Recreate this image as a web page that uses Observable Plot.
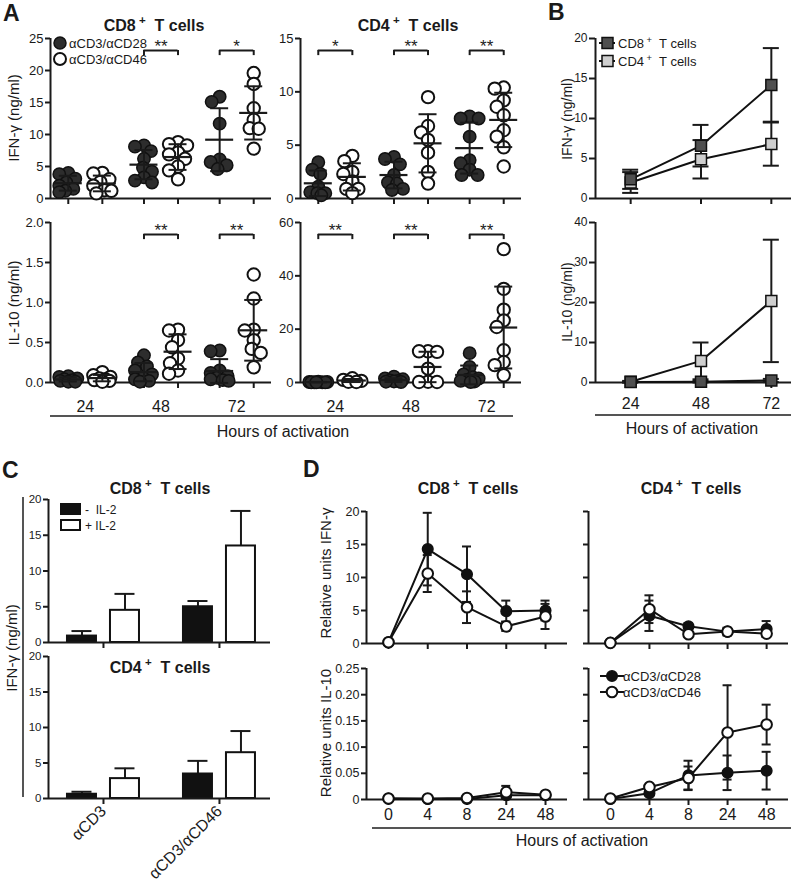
<!DOCTYPE html>
<html>
<head>
<meta charset="utf-8">
<script src="https://cdn.jsdelivr.net/npm/d3@7"></script>
<script src="https://cdn.jsdelivr.net/npm/@observablehq/plot@0.6"></script>
<style>
html, body { margin: 0; padding: 0; background: #fff; overflow: hidden; }
#fig { position: relative; width: 791px; height: 882px; overflow: hidden; background: #fff; }
#fig svg { position: absolute; overflow: visible; }
</style>
</head>
<body>
<div id="fig"></div>
<script>
const FONT = '"Liberation Sans", Arial, Helvetica, sans-serif';

// ================= DATA =================
// Panel A : individual donors (ng/ml), per hour group [24, 48, 72]
const hoursA = ["24", "48", "72"];
const conditions = ["αCD3/αCD28", "αCD3/αCD46"];

const aCd8IfnCD28 = [[4.0, 3.8, 3.1, 2.5, 2.0, 1.5, 1.2, 1.0],
                     [8.3, 8.1, 7.4, 6.2, 4.8, 4.2, 3.3, 2.8, 2.5],
                     [15.9, 15.1, 11.7, 6.1, 5.7, 5.2, 4.6]];
const aCd8IfnCD46 = [[4.0, 3.9, 3.0, 2.6, 2.0, 1.3, 1.2, 0.8],
                     [8.8, 8.5, 8.3, 7.2, 6.9, 6.2, 5.0, 4.4, 3.0],
                     [19.6, 17.9, 14.1, 12.3, 11.0, 10.9, 7.8]];
const aCd4IfnCD28 = [[3.4, 2.7, 2.3, 1.1, 0.6, 0.5, 0.5, 0.3],
                     [3.9, 3.7, 3.2, 2.2, 1.5, 1.4, 0.9, 0.8],
                     [7.7, 7.5, 7.5, 5.8, 3.6, 3.3, 2.7, 2.2, 2.2]];
const aCd4IfnCD46 = [[4.0, 3.5, 2.5, 2.3, 1.6, 0.9, 0.9, 0.5],
                     [9.5, 6.8, 6.2, 5.5, 4.3, 2.5, 1.4],
                     [10.4, 10.3, 9.2, 8.6, 7.8, 6.4, 5.8, 4.8, 3.0]];
const aCd8Il10CD28 = [[0.08, 0.07, 0.05, 0.04, 0.03, 0.02, 0.01, 0.01],
                      [0.34, 0.25, 0.20, 0.15, 0.10, 0.06, 0.04, 0.02, 0.01],
                      [0.40, 0.39, 0.15, 0.12, 0.08, 0.06, 0.04, 0.03, 0.02]];
const aCd8Il10CD46 = [[0.13, 0.09, 0.07, 0.05, 0.04, 0.03, 0.02, 0.01],
                      [0.66, 0.65, 0.53, 0.44, 0.30, 0.24, 0.15, 0.11],
                      [1.35, 1.05, 0.66, 0.65, 0.53, 0.42, 0.37, 0.19]];
const aCd4Il10CD28 = [[0.3, 0.2, 0.2, 0.1, 0.1, 0.1, 0.05, 0.05],
                      [2.2, 1.5, 1.2, 0.8, 0.6, 0.4, 0.3, 0.2],
                      [11.0, 5.8, 3.0, 2.0, 1.5, 1.0, 0.6, 0.4, 0.2]];
const aCd4Il10CD46 = [[1.6, 1.0, 0.6, 0.3, 0.2],
                      [11.7, 11.7, 11.5, 5.2, 0.3, 0.2, 0.2],
                      [50.0, 35.1, 27.3, 23.3, 20.8, 12.1, 7.7, 6.5, 2.7]];
const starsCd8Ifn = ["", "**", "*"];
const starsCd4Ifn = ["*", "**", "**"];
const starsCd8Il10 = ["", "**", "**"];
const starsCd4Il10 = ["**", "**", "**"];

// Panel B : mean ± SD (ng/ml)
const hoursB = ["24", "48", "72"];
const cellsB = ["CD8", "CD4"];
const bIfnCd8 = [2.4, 6.6, 14.2], bIfnCd8Sd = [1.2, 2.6, 4.6];
const bIfnCd4 = [2.0, 4.9, 6.8], bIfnCd4Sd = [1.3, 2.4, 2.7];
const bIl10Cd8 = [0.1, 0.2, 0.5], bIl10Cd8Sd = [0.1, 0.2, 0.4];
const bIl10Cd4 = [0.2, 5.4, 20.4], bIl10Cd4Sd = [0.2, 4.6, 15.3];

// Panel C : IFN-γ (ng/ml) mean + SD, with / without IL-2
const cGroups = ["αCD3", "αCD3/αCD46"];
const cLegend = ["-  IL-2", "+ IL-2"];
const cCd8Minus = [0.9, 5.0], cCd8MinusErr = [0.7, 0.8];
const cCd8Plus = [4.5, 13.5], cCd8PlusErr = [2.3, 4.9];
const cCd4Minus = [0.6, 3.45], cCd4MinusErr = [0.35, 1.85];
const cCd4Plus = [2.8, 6.45], cCd4PlusErr = [1.45, 3.05];

// Panel D : relative units, mean ± SD
const hoursD = ["0", "4", "8", "24", "48"];
const dCd8IfnCD28 = [0.2, 14.3, 10.5, 4.9, 5.0], dCd8IfnCD28Sd = [0.1, 5.5, 4.2, 1.6, 1.5];
const dCd8IfnCD46 = [0.2, 10.6, 5.5, 2.6, 4.1], dCd8IfnCD46Sd = [0.1, 2.8, 2.4, 0.7, 1.9];
const dCd4IfnCD28 = [0.1, 4.2, 2.6, 1.8, 2.2], dCd4IfnCD28Sd = [0.05, 2.3, 0.5, 0.5, 1.2];
const dCd4IfnCD46 = [0.1, 5.2, 1.4, 1.8, 1.5], dCd4IfnCD46Sd = [0.05, 2.1, 0.4, 0.6, 0.5];
const dCd8Il10CD28 = [0.002, 0.001, 0.001, 0.008, 0.008], dCd8Il10CD28Sd = [0, 0, 0, 0.005, 0.002];
const dCd8Il10CD46 = [0.002, 0.002, 0.003, 0.014, 0.009], dCd8Il10CD46Sd = [0, 0, 0.001, 0.012, 0.003];
const dCd4Il10CD28 = [0.001, 0.012, 0.046, 0.051, 0.055], dCd4Il10CD28Sd = [0, 0.004, 0.028, 0.033, 0.036];
const dCd4Il10CD46 = [0.002, 0.024, 0.041, 0.128, 0.143], dCd4Il10CD46Sd = [0, 0.003, 0.022, 0.09, 0.038];

// ================= HELPERS =================
const fig = document.getElementById("fig");
function addPlot(frame, m, opts) {
  const [mt, mr, mb, ml] = m;
  const p = Plot.plot({
    width: frame.x1 - frame.x0 + ml + mr,
    height: frame.y1 - frame.y0 + mt + mb,
    marginTop: mt, marginRight: mr, marginBottom: mb, marginLeft: ml,
    style: {fontFamily: FONT, fontSize: "13px", color: "#1a1a1a", background: "none", overflow: "visible"},
    ...opts
  });
  p.style.position = "absolute";
  p.style.left = (frame.x0 - ml) + "px";
  p.style.top = (frame.y0 - mt) + "px";
  p.style.maxWidth = "none";
  fig.appendChild(p);
}
const M = [12, 14, 50, 48];

// small deterministic beeswarm: horizontal pixel offsets for a column of dots
function swarm(vals, pxY, r) {
  const placed = [], offs = new Array(vals.length);
  const order = d3.range(vals.length).sort((a, b) => vals[b] - vals[a]);
  const minD = 1.45 * r, maxOff = 9;
  for (const i of order) {
    const py = vals[i] * pxY;
    let best = 0, bestScore = -1;
    for (let k = 0; k <= 2 * maxOff; k++) {
      const o = (k % 2 ? -1 : 1) * Math.ceil(k / 2);
      const dmin = placed.length ? d3.min(placed, p => Math.hypot(p.x - o, p.y - py)) : Infinity;
      if (dmin >= minD) { best = o; break; }
      if (dmin > bestScore) { bestScore = dmin; best = o; }
    }
    placed.push({x: best, y: py});
    offs[i] = best;
  }
  return offs;
}

function errMarks(data, cap) {
  return [
    Plot.ruleX(data, {x: "x", y1: d => d.v - d.e, y2: d => d.v + d.e, strokeWidth: 2}),
    Plot.ruleY(data, {y: d => d.v + d.e, x1: d => d.x - cap, x2: d => d.x + cap, strokeWidth: 2}),
    Plot.ruleY(data, {y: d => d.v - d.e, x1: d => d.x - cap, x2: d => d.x + cap, strokeWidth: 2})
  ];
}

// ---------- Panel A ----------
const A_OFF = 0.225;
function panelA(frame, yMax, yTicks, fmt, s28, s46, stars, withX) {
  const xDom = [-0.46, 2.46];
  const pxX = (frame.x1 - frame.x0) / (xDom[1] - xDom[0]);
  const pxY = (frame.y1 - frame.y0) / yMax;
  const R = 6.2;
  const pts = [], stats = [];
  hoursA.forEach((h, g) => {
    [s28, s46].forEach((series, c) => {
      const pos = g + (c ? A_OFF : -A_OFF);
      const vals = series[g];
      const offs = swarm(vals, pxY, R);
      vals.forEach((v, i) => pts.push({x: pos + offs[i] / pxX, y: v, c}));
      stats.push({x: pos, v: d3.mean(vals), e: d3.deviation(vals)});
    });
  });
  const br = stars.map((s, g) => ({g, s, a: g - A_OFF, b: g + A_OFF})).filter(d => d.s);
  const yB = yMax * 0.925, yBt = yMax * 0.893;
  const meanHW = 14 / pxX;
  const marks = [
    Plot.ruleY([0], {strokeWidth: 2}),
    Plot.ruleX([xDom[0]], {y1: 0, y2: yMax, strokeWidth: 2}),
    Plot.axisY({ticks: yTicks, tickFormat: fmt, tickSize: 5, tickPadding: 2, fontSize: 13, strokeWidth: 2, label: null}),
    Plot.axisX({ticks: stats.map(d => d.x), tickFormat: () => "", tickSize: 6, strokeWidth: 2, label: null}),
    Plot.dot(pts.filter(d => !d.c), {x: "x", y: "y", r: R, fill: "#2d2d2d", stroke: "#111", strokeWidth: 1.5}),
    Plot.dot(pts.filter(d => d.c), {x: "x", y: "y", r: R, fill: "white", stroke: "#111", strokeWidth: 2}),
    Plot.ruleY(stats, {y: "v", x1: d => d.x - meanHW, x2: d => d.x + meanHW, strokeWidth: 2.2}),
    ...errMarks(stats, 9 / pxX),
    Plot.ruleY(br, {y: yB, x1: "a", x2: "b", strokeWidth: 2}),
    Plot.ruleX(br, {x: "a", y1: yBt, y2: yB, strokeWidth: 2}),
    Plot.ruleX(br, {x: "b", y1: yBt, y2: yB, strokeWidth: 2}),
    Plot.text(br, {x: "g", y: yB, text: "s", dy: -4, fontSize: 17, fill: "#222"})
  ];
  if (withX) marks.push(Plot.axisX({ticks: [0, 1, 2], tickFormat: i => hoursA[i], tickSize: 0, tickPadding: 18, fontSize: 16, label: null}));
  addPlot(frame, M, {x: {domain: xDom}, y: {domain: [0, yMax]}, marks});
}

// ---------- line panels (B, D) ----------
function panelLine(frame, xLabels, pad, yMax, yTicks, fmt, series, withX, withY, xPad, sym) {
  const n = xLabels.length;
  const xDom = [-pad, n - 1 + pad];
  const pxX = (frame.x1 - frame.x0) / (xDom[1] - xDom[0]);
  const rows = series.map(s => xLabels.map((h, i) => ({x: i, v: s.v[i], e: s.e[i]})));
  const marks = [
    Plot.ruleY([0], {strokeWidth: 2}),
    Plot.ruleX([xDom[0]], {y1: 0, y2: yMax, strokeWidth: 2}),
    Plot.axisY({ticks: yTicks, tickFormat: withY ? fmt : () => "", tickSize: sym.tick, tickPadding: 2, fontSize: sym.font, strokeWidth: 2, label: null}),
    Plot.axisX({ticks: d3.range(n), tickFormat: () => "", tickSize: 6, strokeWidth: 2, label: null})
  ];
  rows.forEach(r => marks.push(...errMarks(r, sym.cap / pxX)));
  rows.forEach(r => marks.push(Plot.line(r, {x: "x", y: "v", stroke: "#111", strokeWidth: 2})));
  rows.forEach((r, k) => marks.push(Plot.dot(r, {x: "x", y: "v", symbol: sym.symbol, r: sym.r, fill: series[k].fill, stroke: "#111", strokeWidth: series[k].sw})));
  if (withX) marks.push(Plot.axisX({ticks: d3.range(n), tickFormat: i => xLabels[i], tickSize: 0, tickPadding: xPad, fontSize: 16, label: null}));
  addPlot(frame, M, {x: {domain: xDom}, y: {domain: [0, yMax]}, marks});
}

// ---------- Panel C ----------
function panelC(frame, minus, minusErr, plus, plusErr, withX) {
  const xDom = [-0.474, 1.44];
  const pxX = (frame.x1 - frame.x0) / (xDom[1] - xDom[0]);
  const off = 21.5 / pxX, hw = 14.5 / pxX, cap = 10 / pxX;
  const bars = cGroups.flatMap((g, i) => [
    {x: i - off, v: minus[i], e: minusErr[i], k: 0},
    {x: i + off, v: plus[i], e: plusErr[i], k: 1}
  ]);
  const marks = [
    Plot.ruleX(bars, {x: "x", y1: "v", y2: d => d.v + d.e, strokeWidth: 2}),
    Plot.ruleY(bars, {y: d => d.v + d.e, x1: d => d.x - cap, x2: d => d.x + cap, strokeWidth: 2}),
    Plot.rect(bars.filter(d => !d.k), {x1: d => d.x - hw, x2: d => d.x + hw, y1: 0, y2: "v", fill: "#111", stroke: "#111", strokeWidth: 2}),
    Plot.rect(bars.filter(d => d.k), {x1: d => d.x - hw, x2: d => d.x + hw, y1: 0, y2: "v", fill: "white", stroke: "#111", strokeWidth: 2}),
    Plot.ruleY([0], {strokeWidth: 2}),
    Plot.ruleX([xDom[0]], {y1: 0, y2: 20, strokeWidth: 2}),
    Plot.axisY({ticks: [0, 5, 10, 15, 20], tickSize: 5, tickPadding: 2, fontSize: 11.5, strokeWidth: 2, label: null}),
    Plot.axisX({ticks: [0, 1], tickFormat: withX ? (i => cGroups[i]) : () => "", tickSize: 6, tickPadding: 4, tickRotate: -45, fontSize: 16, strokeWidth: 2, label: null})
  ];
  addPlot(frame, M, {x: {domain: xDom}, y: {domain: [0, 20]}, marks});
}

// ================= DRAW =================
const f1 = v => v.toFixed(1);
panelA({x0: 50, x1: 271, y0: 38, y1: 198}, 25, [0, 5, 10, 15, 20, 25], d => d, aCd8IfnCD28, aCd8IfnCD46, starsCd8Ifn, false);
panelA({x0: 300, x1: 521, y0: 38, y1: 198}, 15, [0, 5, 10, 15], d => d, aCd4IfnCD28, aCd4IfnCD46, starsCd4Ifn, false);
panelA({x0: 50, x1: 271, y0: 222, y1: 382}, 2, [0, 0.5, 1, 1.5, 2], f1, aCd8Il10CD28, aCd8Il10CD46, starsCd8Il10, true);
panelA({x0: 300, x1: 521, y0: 222, y1: 382}, 60, [0, 20, 40, 60], d => d, aCd4Il10CD28, aCd4Il10CD46, starsCd4Il10, true);

const sqSym = {symbol: "square", r: 6.2, cap: 8, tick: 6, font: 12};
panelLine({x0: 595, x1: 806, y0: 38, y1: 198}, hoursB, 0.5, 20, [0, 5, 10, 15, 20], d => d,
  [{v: bIfnCd4, e: bIfnCd4Sd, fill: "#cfcfcf", sw: 1.5}, {v: bIfnCd8, e: bIfnCd8Sd, fill: "#4f4f4f", sw: 1.5}], false, true, 0, sqSym);
panelLine({x0: 595, x1: 806, y0: 222, y1: 382}, hoursB, 0.5, 40, [0, 10, 20, 30, 40], d => d,
  [{v: bIl10Cd4, e: bIl10Cd4Sd, fill: "#cfcfcf", sw: 1.5}, {v: bIl10Cd8, e: bIl10Cd8Sd, fill: "#4f4f4f", sw: 1.5}], true, true, 15, sqSym);

panelC({x0: 48, x1: 270, y0: 499, y1: 642}, cCd8Minus, cCd8MinusErr, cCd8Plus, cCd8PlusErr, false);
panelC({x0: 48, x1: 270, y0: 656, y1: 798}, cCd4Minus, cCd4MinusErr, cCd4Plus, cCd4PlusErr, true);

const ciSym = {symbol: "circle", r: 5.3, cap: 4.5, tick: 5, font: 12.5};
const f2 = d => d === 0 ? "0" : d.toFixed(2);
panelLine({x0: 366, x1: 567, y0: 511, y1: 643}, hoursD, 0.56, 20, [0, 5, 10, 15, 20], d => d,
  [{v: dCd8IfnCD28, e: dCd8IfnCD28Sd, fill: "#111", sw: 1.5}, {v: dCd8IfnCD46, e: dCd8IfnCD46Sd, fill: "white", sw: 2}], false, true, 0, ciSym);
panelLine({x0: 588, x1: 788, y0: 511, y1: 643}, hoursD, 0.56, 20, [0, 5, 10, 15, 20], d => d,
  [{v: dCd4IfnCD28, e: dCd4IfnCD28Sd, fill: "#111", sw: 1.5}, {v: dCd4IfnCD46, e: dCd4IfnCD46Sd, fill: "white", sw: 2}], false, false, 0, ciSym);
panelLine({x0: 366, x1: 567, y0: 668, y1: 799}, hoursD, 0.56, 0.25, [0, 0.05, 0.10, 0.15, 0.20, 0.25], f2,
  [{v: dCd8Il10CD28, e: dCd8Il10CD28Sd, fill: "#111", sw: 1.5}, {v: dCd8Il10CD46, e: dCd8Il10CD46Sd, fill: "white", sw: 2}], true, true, 9, ciSym);
panelLine({x0: 588, x1: 788, y0: 668, y1: 799}, hoursD, 0.56, 0.25, [0, 0.05, 0.10, 0.15, 0.20, 0.25], f2,
  [{v: dCd4Il10CD28, e: dCd4Il10CD28Sd, fill: "#111", sw: 1.5}, {v: dCd4Il10CD46, e: dCd4Il10CD46Sd, fill: "white", sw: 2}], true, false, 9, ciSym);

// ================= OVERLAY: titles, labels, legends =================
const ov = d3.select(fig).append("svg").attr("width", 791).attr("height", 882)
  .style("left", "0px").style("top", "0px").style("pointer-events", "none")
  .attr("font-family", FONT).attr("fill", "#1a1a1a");
function T(x, y, s, o = {}) {
  const t = ov.append("text").attr("x", x).attr("y", y).attr("font-size", o.size || 13)
    .attr("text-anchor", o.anchor || "start").style("white-space", "pre");
  if (o.bold) t.attr("font-weight", "bold");
  if (o.rot) t.attr("transform", `rotate(-90 ${x} ${y})`);
  if (s) t.text(s);
  return t;
}
function cellText(x, y, cell, o) {
  const size = o.size || 13;
  const t = T(x, y, "", o);
  t.append("tspan").text(cell);
  t.append("tspan").attr("dy", -0.42 * size).attr("font-size", size * 0.72).text(" +");
  t.append("tspan").attr("dy", 0.42 * size).text("  T cells");
}
function hline(x1, x2, y, c = "#555") { ov.append("line").attr("x1", x1).attr("x2", x2).attr("y1", y).attr("y2", y).attr("stroke", c).attr("stroke-width", 2); }

// panel letters
[["A", 3, 21], ["B", 548, 20], ["C", 2, 478], ["D", 303, 477]].forEach(([s, x, y]) => T(x, y, s, {size: 23, bold: true}));
// titles
cellText(154, 31, "CD8", {size: 16, bold: true, anchor: "middle"});
cellText(408, 31, "CD4", {size: 16, bold: true, anchor: "middle"});
cellText(160, 494, "CD8", {size: 16, bold: true, anchor: "middle"});
cellText(160, 673, "CD4", {size: 16, bold: true, anchor: "middle"});
cellText(468, 494, "CD8", {size: 16, bold: true, anchor: "middle"});
cellText(691, 494, "CD4", {size: 16, bold: true, anchor: "middle"});
// axis titles
T(19, 118, "IFN-γ (ng/ml)", {size: 15, anchor: "middle", rot: true});
T(19, 303, "IL-10 (ng/ml)", {size: 15, anchor: "middle", rot: true});
T(572, 119, "IFN-γ (ng/ml)", {size: 14, anchor: "middle", rot: true});
T(572, 302, "IL-10 (ng/ml)", {size: 14, anchor: "middle", rot: true});
T(17, 648, "IFN-γ (ng/ml)", {size: 15, anchor: "middle", rot: true});
T(331, 573, "Relative units IFN-γ", {size: 15, anchor: "middle", rot: true});
T(331, 733, "Relative units IL-10", {size: 15, anchor: "middle", rot: true});
// hours of activation
hline(50, 513, 416); T(283, 437, "Hours of activation", {size: 16, anchor: "middle"});
hline(595, 791, 415); T(692, 434, "Hours of activation", {size: 16, anchor: "middle"});
hline(372, 791, 828); T(582, 846, "Hours of activation", {size: 16, anchor: "middle"});
ov.append("line").attr("x1", 23).attr("x2", 23).attr("y1", 497).attr("y2", 797).attr("stroke", "#555").attr("stroke-width", 2);

// legend A
ov.append("circle").attr("cx", 60).attr("cy", 43).attr("r", 6).attr("fill", "#2d2d2d").attr("stroke", "#111").attr("stroke-width", 1.5);
ov.append("circle").attr("cx", 60).attr("cy", 59).attr("r", 6).attr("fill", "white").attr("stroke", "#111").attr("stroke-width", 2);
T(69, 48, conditions[0], {size: 13});
T(69, 64, conditions[1], {size: 13});
// legend B
[["#4f4f4f", 43], ["#cfcfcf", 61]].forEach(([c, y], k) => {
  hline(599, 615, y, "#111");
  ov.append("rect").attr("x", 602).attr("y", y - 5.5).attr("width", 11).attr("height", 11).attr("fill", c).attr("stroke", "#111").attr("stroke-width", 1.5);
  cellText(618, y + 5, cellsB[k], {size: 13});
});
// legend C
ov.append("rect").attr("x", 61).attr("y", 504).attr("width", 19).attr("height", 10).attr("fill", "#111").attr("stroke", "#111").attr("stroke-width", 2);
ov.append("rect").attr("x", 61).attr("y", 520).attr("width", 19).attr("height", 10).attr("fill", "white").attr("stroke", "#111").attr("stroke-width", 2);
T(85, 514, cLegend[0], {size: 12});
T(85, 530, cLegend[1], {size: 12});
// legend D
[["#111", 676, 1.5], ["white", 692, 2]].forEach(([c, y, sw], k) => {
  hline(600, 624, y, "#111");
  ov.append("circle").attr("cx", 612).attr("cy", y).attr("r", 5.3).attr("fill", c).attr("stroke", "#111").attr("stroke-width", sw);
  T(623, y + 5, conditions[k], {size: 13});
});
</script>
</body>
</html>
